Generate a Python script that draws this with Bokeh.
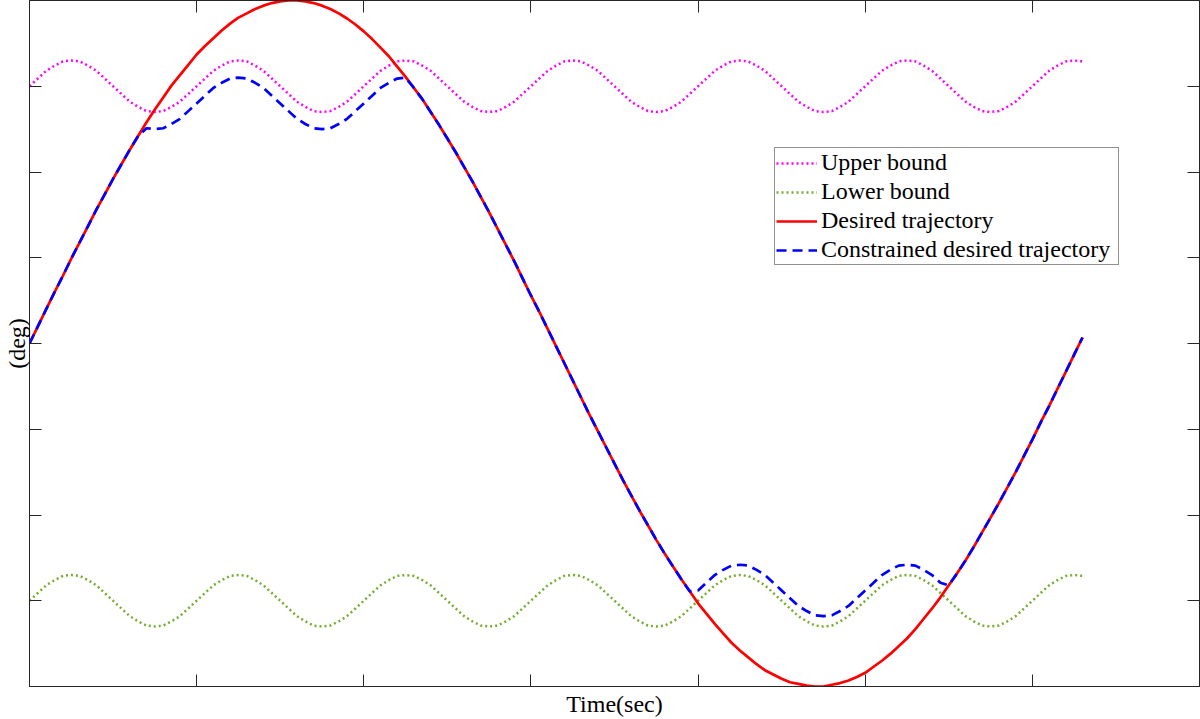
from bokeh.plotting import figure
from bokeh.models import Range1d, LinearAxis, FixedTicker, Legend, LegendItem
from bokeh.embed import file_html
from bokeh.resources import INLINE

# ---------------- data ----------------
time_sec = [
    0.00, 0.05, 0.10, 0.15, 0.20, 0.25, 0.30, 0.35, 0.40, 0.45,
    0.50, 0.55, 0.60, 0.65, 0.70, 0.75, 0.80, 0.85, 0.90, 0.95,
    1.00, 1.05, 1.10, 1.15, 1.20, 1.25, 1.30, 1.35, 1.40, 1.45,
    1.50, 1.55, 1.60, 1.65, 1.70, 1.75, 1.80, 1.85, 1.90, 1.95,
    2.00, 2.05, 2.10, 2.15, 2.20, 2.25, 2.30, 2.35, 2.40, 2.45,
    2.50, 2.55, 2.60, 2.65, 2.70, 2.75, 2.80, 2.85, 2.90, 2.95,
    3.00, 3.05, 3.10, 3.15, 3.20, 3.25, 3.30, 3.35, 3.40, 3.45,
    3.50, 3.55, 3.60, 3.65, 3.70, 3.75, 3.80, 3.85, 3.90, 3.95,
    4.00, 4.05, 4.10, 4.15, 4.20, 4.25, 4.30, 4.35, 4.40, 4.45,
    4.50, 4.55, 4.60, 4.65, 4.70, 4.75, 4.80, 4.85, 4.90, 4.95,
    5.00, 5.05, 5.10, 5.15, 5.20, 5.25, 5.30, 5.35, 5.40, 5.45,
    5.50, 5.55, 5.60, 5.65, 5.70, 5.75, 5.80, 5.85, 5.90, 5.95,
    6.00, 6.05, 6.10, 6.15, 6.20, 6.25, 6.30,
]

upper_bound = [
    3.00, 3.09, 3.18, 3.24, 3.29, 3.30, 3.29, 3.24, 3.18, 3.09,
    3.00, 2.91, 2.82, 2.76, 2.71, 2.70, 2.71, 2.76, 2.82, 2.91,
    3.00, 3.09, 3.18, 3.24, 3.29, 3.30, 3.29, 3.24, 3.18, 3.09,
    3.00, 2.91, 2.82, 2.76, 2.71, 2.70, 2.71, 2.76, 2.82, 2.91,
    3.00, 3.09, 3.18, 3.24, 3.29, 3.30, 3.29, 3.24, 3.18, 3.09,
    3.00, 2.91, 2.82, 2.76, 2.71, 2.70, 2.71, 2.76, 2.82, 2.91,
    3.00, 3.09, 3.18, 3.24, 3.29, 3.30, 3.29, 3.24, 3.18, 3.09,
    3.00, 2.91, 2.82, 2.76, 2.71, 2.70, 2.71, 2.76, 2.82, 2.91,
    3.00, 3.09, 3.18, 3.24, 3.29, 3.30, 3.29, 3.24, 3.18, 3.09,
    3.00, 2.91, 2.82, 2.76, 2.71, 2.70, 2.71, 2.76, 2.82, 2.91,
    3.00, 3.09, 3.18, 3.24, 3.29, 3.30, 3.29, 3.24, 3.18, 3.09,
    3.00, 2.91, 2.82, 2.76, 2.71, 2.70, 2.71, 2.76, 2.82, 2.91,
    3.00, 3.09, 3.18, 3.24, 3.29, 3.30, 3.29,
]

lower_bound = [
    -3.00, -2.91, -2.82, -2.76, -2.71, -2.70, -2.71, -2.76, -2.82, -2.91,
    -3.00, -3.09, -3.18, -3.24, -3.29, -3.30, -3.29, -3.24, -3.18, -3.09,
    -3.00, -2.91, -2.82, -2.76, -2.71, -2.70, -2.71, -2.76, -2.82, -2.91,
    -3.00, -3.09, -3.18, -3.24, -3.29, -3.30, -3.29, -3.24, -3.18, -3.09,
    -3.00, -2.91, -2.82, -2.76, -2.71, -2.70, -2.71, -2.76, -2.82, -2.91,
    -3.00, -3.09, -3.18, -3.24, -3.29, -3.30, -3.29, -3.24, -3.18, -3.09,
    -3.00, -2.91, -2.82, -2.76, -2.71, -2.70, -2.71, -2.76, -2.82, -2.91,
    -3.00, -3.09, -3.18, -3.24, -3.29, -3.30, -3.29, -3.24, -3.18, -3.09,
    -3.00, -2.91, -2.82, -2.76, -2.71, -2.70, -2.71, -2.76, -2.82, -2.91,
    -3.00, -3.09, -3.18, -3.24, -3.29, -3.30, -3.29, -3.24, -3.18, -3.09,
    -3.00, -2.91, -2.82, -2.76, -2.71, -2.70, -2.71, -2.76, -2.82, -2.91,
    -3.00, -3.09, -3.18, -3.24, -3.29, -3.30, -3.29, -3.24, -3.18, -3.09,
    -3.00, -2.91, -2.82, -2.76, -2.71, -2.70, -2.71,
]

desired = [
    0.00, 0.20, 0.40, 0.60, 0.79, 0.99, 1.18, 1.37, 1.56, 1.74,
    1.92, 2.09, 2.26, 2.42, 2.58, 2.73, 2.87, 3.01, 3.13, 3.25,
    3.37, 3.47, 3.56, 3.65, 3.73, 3.80, 3.85, 3.90, 3.94, 3.97,
    3.99, 4.00, 4.00, 3.99, 3.97, 3.94, 3.90, 3.85, 3.79, 3.72,
    3.64, 3.55, 3.45, 3.35, 3.23, 3.11, 2.98, 2.85, 2.70, 2.55,
    2.39, 2.23, 2.06, 1.89, 1.71, 1.53, 1.34, 1.15, 0.96, 0.76,
    0.56, 0.37, 0.17, -0.03, -0.23, -0.43, -0.63, -0.83, -1.02, -1.21,
    -1.40, -1.59, -1.77, -1.95, -2.12, -2.29, -2.45, -2.60, -2.75, -2.89,
    -3.03, -3.15, -3.27, -3.38, -3.49, -3.58, -3.66, -3.74, -3.81, -3.86,
    -3.91, -3.95, -3.97, -3.99, -4.00, -4.00, -3.98, -3.96, -3.93, -3.89,
    -3.84, -3.77, -3.70, -3.62, -3.53, -3.44, -3.33, -3.21, -3.09, -2.96,
    -2.82, -2.68, -2.53, -2.37, -2.20, -2.03, -1.86, -1.68, -1.50, -1.31,
    -1.12, -0.92, -0.73, -0.53, -0.33, -0.13, 0.07,
]

constrained = [
    0.00, 0.20, 0.40, 0.60, 0.79, 0.99, 1.18, 1.37, 1.56, 1.74,
    1.92, 2.09, 2.26, 2.42, 2.51, 2.50, 2.51, 2.56, 2.62, 2.71,
    2.80, 2.89, 2.98, 3.04, 3.09, 3.10, 3.09, 3.04, 2.98, 2.89,
    2.80, 2.71, 2.62, 2.56, 2.51, 2.50, 2.51, 2.56, 2.62, 2.71,
    2.80, 2.89, 2.98, 3.04, 3.09, 3.10, 2.98, 2.85, 2.70, 2.55,
    2.39, 2.23, 2.06, 1.89, 1.71, 1.53, 1.34, 1.15, 0.96, 0.76,
    0.56, 0.37, 0.17, -0.03, -0.23, -0.43, -0.63, -0.83, -1.02, -1.21,
    -1.40, -1.59, -1.77, -1.95, -2.12, -2.29, -2.45, -2.60, -2.75, -2.89,
    -2.88, -2.79, -2.70, -2.64, -2.59, -2.58, -2.59, -2.64, -2.70, -2.79,
    -2.88, -2.97, -3.06, -3.12, -3.17, -3.18, -3.17, -3.12, -3.06, -2.97,
    -2.88, -2.79, -2.70, -2.64, -2.59, -2.58, -2.59, -2.64, -2.70, -2.79,
    -2.82, -2.68, -2.53, -2.37, -2.20, -2.03, -1.86, -1.68, -1.50, -1.31,
    -1.12, -0.92, -0.73, -0.53, -0.33, -0.13, 0.07,
]

x_ticks = [1, 2, 3, 4, 5, 6]
y_ticks = [-3, -2, -1, 0, 1, 2, 3]

series_labels = ["Upper bound", "Lower bound", "Desired trajectory",
                 "Constrained desired trajectory"]
x_title = "Time(sec)"
y_title = "(deg)"

# ---------------- figure ----------------
FONT = "Liberation Serif"
AX = "#262626"

p = figure(width=1200, height=719, output_backend="svg", toolbar_location=None,
           x_range=Range1d(0, 7), y_range=Range1d(-4, 4),
           min_border_left=28, min_border_right=1, min_border_top=0,
           min_border_bottom=32)
p.grid.visible = False
p.outline_line_color = AX
p.outline_line_width = 1
p.background_fill_color = "white"
p.border_fill_color = "white"


def style_axis(ax, ticks):
    ax.ticker = FixedTicker(ticks=ticks)
    ax.major_label_text_color = None
    ax.major_label_text_font_size = "1px"
    ax.major_label_standoff = 0
    ax.major_tick_in = 12
    ax.major_tick_out = 0
    ax.minor_tick_in = 0
    ax.minor_tick_out = 0
    ax.axis_line_color = AX
    ax.major_tick_line_color = AX
    ax.axis_label_text_font = FONT
    ax.axis_label_text_font_size = "24px"
    ax.axis_label_text_font_style = "normal"
    ax.axis_label_text_color = "black"
    ax.axis_label_standoff = 4


style_axis(p.xaxis[0], x_ticks)
style_axis(p.yaxis[0], y_ticks)
p.xaxis[0].axis_label = x_title
p.yaxis[0].axis_label = y_title
p.yaxis[0].axis_label_standoff = 0
p.yaxis[0].axis_label_text_baseline = "top"

top_ax = LinearAxis()
style_axis(top_ax, x_ticks)
p.add_layout(top_ax, "above")
right_ax = LinearAxis()
style_axis(right_ax, y_ticks)
p.add_layout(right_ax, "right")

r_up = p.line(time_sec, upper_bound, line_color="#FF00FF", line_width=2.5,
              line_dash="2 3")
r_lo = p.line(time_sec, lower_bound, line_color="#77AC30", line_width=2.5,
              line_dash="2 3")
r_de = p.line(time_sec, desired, line_color="#FF0000", line_width=2.7)
r_co = p.line(time_sec, constrained, line_color="#0000FF", line_width=2.7,
              line_dash="10 6")

legend = Legend(
    items=[LegendItem(label=lab, renderers=[r])
           for lab, r in zip(series_labels, [r_up, r_lo, r_de, r_co])],
    location=(745, 421),
    label_text_font=FONT, label_text_font_size="24px",
    label_text_color="black",
    border_line_color=AX, border_line_width=1,
    background_fill_color="white", background_fill_alpha=1,
    padding=1, spacing=2, margin=0,
    glyph_width=41, glyph_height=20, label_standoff=4, label_width=296,
)
p.add_layout(legend)

open("out.html", "w").write(file_html(p, INLINE))
